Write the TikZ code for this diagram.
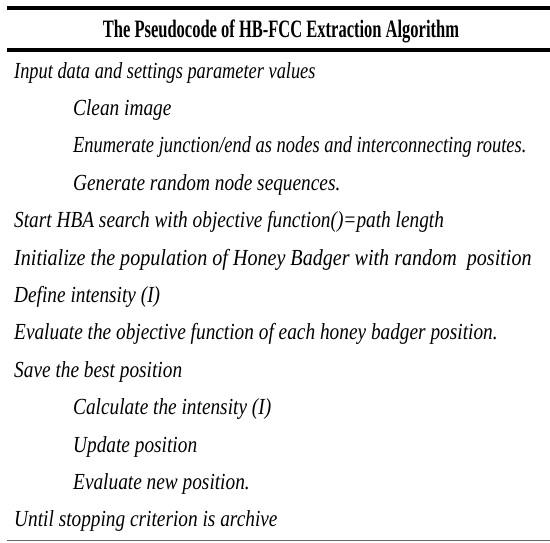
\documentclass[tikz,border=0pt]{standalone}
\usepackage{fontspec}
\usepackage{graphicx}
\setmainfont{Liberation Serif}
\newfontfamily\bodyfont[FakeStretch=0.84]{Liberation Serif}
\newfontfamily\titlefont[FakeStretch=0.66]{Liberation Serif}
\begin{document}
\begin{tikzpicture}[x=1pt,y=1pt,
  line/.style={inner sep=0pt,anchor=base west,font=\bodyfont\itshape\fontsize{23}{23}\selectfont},
  title/.style={inner sep=0pt,anchor=base,font=\titlefont\bfseries\fontsize{25}{25}\selectfont},
  thickrule/.style={line width=4pt,black},
  thinrule/.style={line width=1pt,black!60}]
\useasboundingbox (0,0) rectangle (550,-542);
\coordinate (t1) at (7,-8);
\coordinate (t2) at (550,-8);
\coordinate (m1) at (7,-49.5);
\coordinate (m2) at (550,-49.5);
\coordinate (b1) at (7,-540);
\coordinate (b2) at (550,-540);
\draw[thickrule] (t1) -- (t2);
\draw[thickrule] (m1) -- (m2);
\draw[thinrule] (b1) -- (b2);
\node[title] (head) at (281,-37) {The Pseudocode of HB-FCC Extraction Algorithm};
\node[line] (l1) at (14,-78) {\scalebox{0.95}[1]{Input data and settings parameter values}};
\node[line] (l2) at (73,-115.4) {Clean image};
\node[line] (l3) at (73,-152.8) {\scalebox{0.955}[1]{Enumerate junction/end as nodes and interconnecting routes.}};
\node[line] (l4) at (73,-190.2) {Generate random node sequences.};
\node[line] (l5) at (14,-227.6) {Start HBA search with objective function()=path length};
\node[line] (l6) at (14,-265) {\scalebox{1.04}[1]{Initialize the population of Honey Badger with random\ \ position}};
\node[line] (l7) at (14,-302.4) {Define intensity (I)};
\node[line] (l8) at (14,-339.8) {Evaluate the objective function of each honey badger position.};
\node[line] (l9) at (14,-377.2) {Save the best position};
\node[line] (l10) at (73,-414.6) {Calculate the intensity (I)};
\node[line] (l11) at (73,-452) {Update position};
\node[line] (l12) at (73,-489.4) {Evaluate new position.};
\node[line] (l13) at (14,-526.8) {Until stopping criterion is archive};
\end{tikzpicture}
\end{document}
